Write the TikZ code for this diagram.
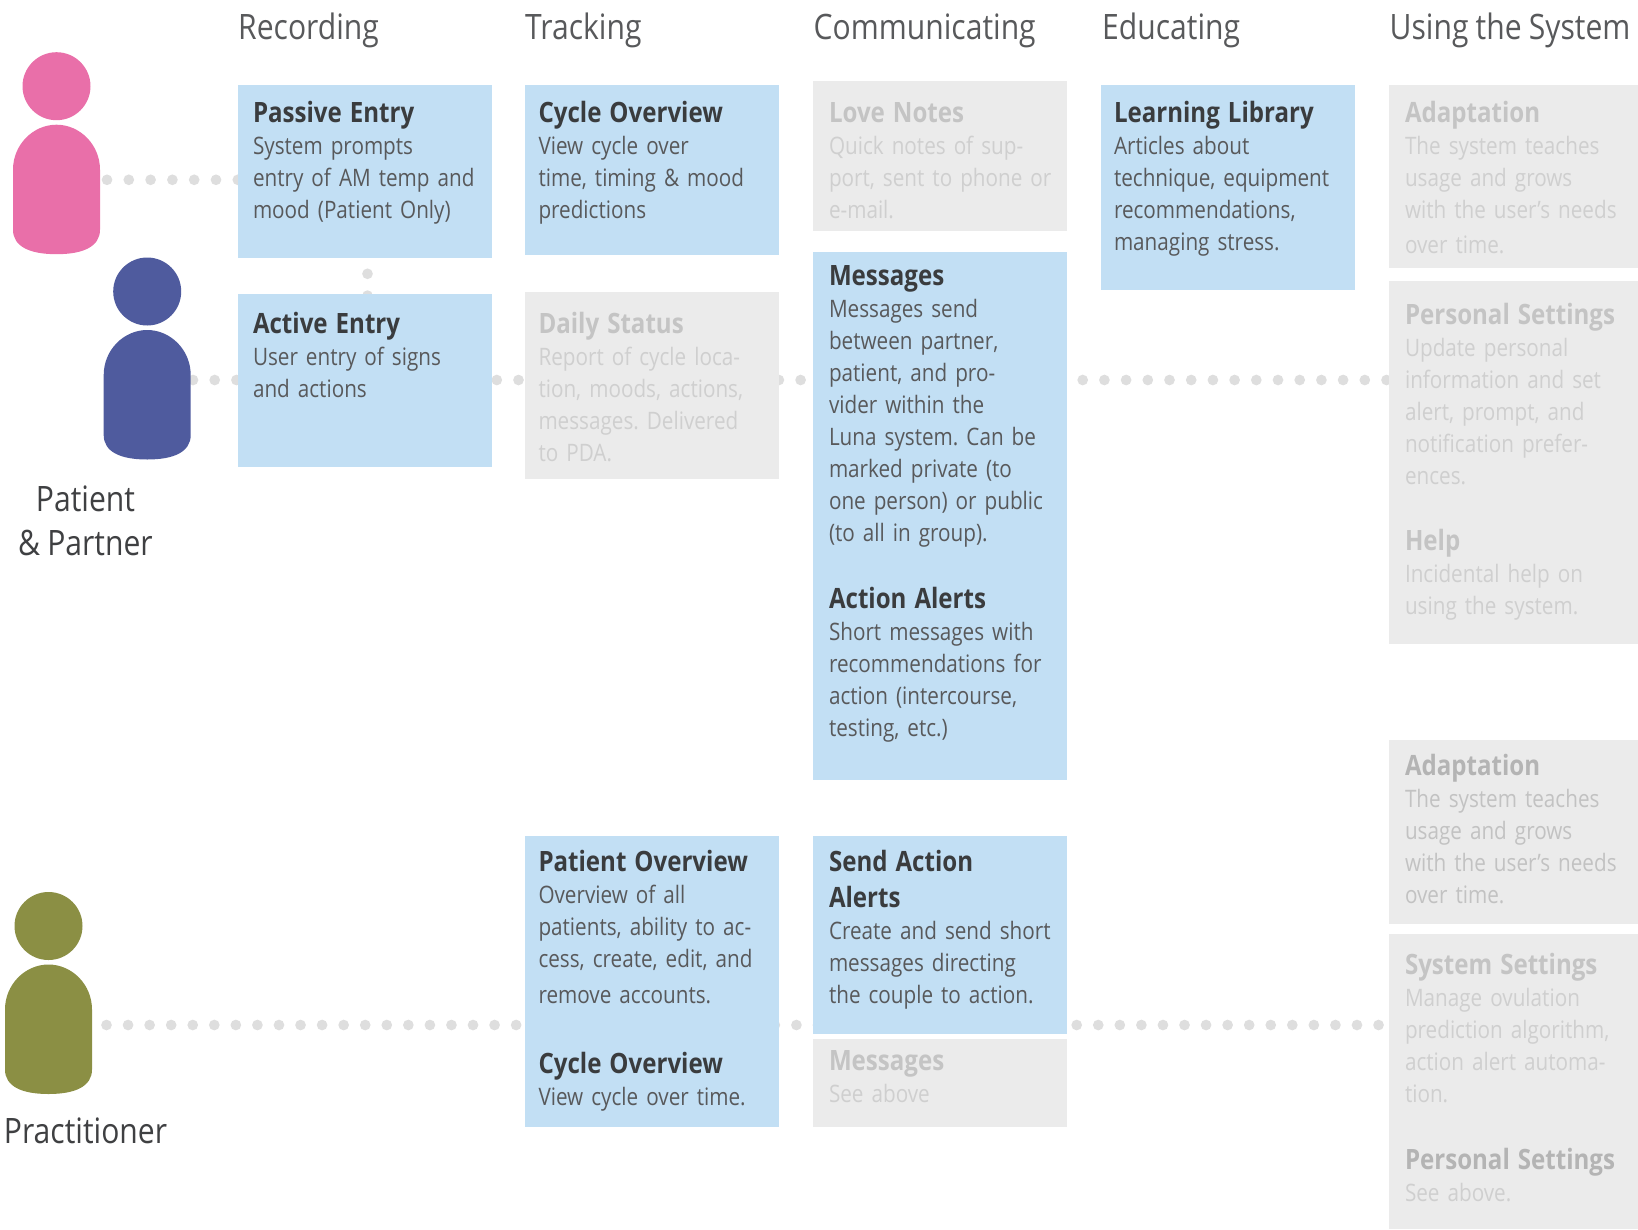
\documentclass[tikz,border=0pt]{standalone}
\usepackage{fontspec}
\setmainfont[FakeStretch=0.86,WordSpace=0.72]{Open Sans}
\newfontfamily\headfam[FakeStretch=0.86,WordSpace=0.92]{Open Sans}
\usetikzlibrary{backgrounds}
\definecolor{cardblue}{HTML}{C2DFF4}
\definecolor{cardgrey}{HTML}{EBEBEB}
\definecolor{dotgrey}{HTML}{DEDEDE}
\definecolor{inkhead}{HTML}{58595B}
\definecolor{inklabel}{HTML}{3F4042}
\definecolor{bluetitle}{HTML}{3A3C3E}
\definecolor{bluebody}{HTML}{58595B}
\definecolor{greytitle}{HTML}{C4C4C4}
\definecolor{greybody}{HTML}{CFCFCF}
\definecolor{midtitle}{HTML}{B4B4B4}
\definecolor{midbody}{HTML}{C2C2C2}
\newcommand\tb[1]{{\fontsize{28}{32}\selectfont\bfseries\color{bluetitle}#1}}
\newcommand\tg[1]{{\fontsize{28}{32}\selectfont\bfseries\color{greytitle}#1}}
\newcommand\tm[1]{{\fontsize{28}{32}\selectfont\bfseries\color{midtitle}#1}}
\definecolor{pinkp}{HTML}{E96FA9}
\definecolor{bluep}{HTML}{4F5B9E}
\definecolor{olivep}{HTML}{8B8F44}
\tikzset{
  bluecard/.style={fill=cardblue},
  greycard/.style={fill=cardgrey},
  cardbox/.style={anchor=north west,inner sep=0pt,outer sep=0pt,draw=none},
  cardtext/.style={anchor=base west,inner sep=0pt,outer sep=0pt,text width=300pt,align=left,font=\fontsize{24.05}{32}\selectfont\frenchspacing},
  blueink/.style={text=bluebody},
  greyink/.style={text=greybody},
  midink/.style={text=midbody},
  dotrow/.style={draw=dotgrey,line width=10.7pt,line cap=round,dash pattern=on 0pt off #1},
  heading/.style={anchor=base west,inner sep=0pt,text=inkhead,font=\headfam\fontsize{35}{40}\selectfont},
  rolelabel/.style={anchor=base,inner sep=0pt,align=center,text=inklabel,font=\headfam\fontsize{35}{44.5}\selectfont},
  personhead/.style={circle,inner sep=0pt,minimum size=68pt,fill=#1},
}
% style, ink, name, x0, y0, x1, y1, text offset, first baseline, text
\newcommand\card[9]{%
  \node[cardbox,#1,minimum width=#6pt-#4pt,minimum height=#7pt-#5pt] (#3) at (#4,#5) {};%
  \cardrest{#2}{#3}{#4}{#8}{#9}%
}
\newcommand\cardrest[5]{\node[cardtext,#1] (#2-text) at (#3+#4,#5) {\cardbody};}
\newcommand\person[4]{% name, colour, body x, body y
  \node[personhead=#2] (#1-head) at (#3+43.5,#4-38.5) {};
  \fill[#2] (#3,#4+45) .. controls (#3,#4+20) and (#3+20,#4) .. (#3+43.5,#4)
    .. controls (#3+67,#4) and (#3+87,#4+20) .. (#3+87,#4+45)
    -- (#3+87,#4+105) .. controls (#3+87,#4+122) and (#3+70,#4+129.5) .. (#3+43.5,#4+129.5)
    .. controls (#3+17,#4+129.5) and (#3,#4+122) .. (#3,#4+105) -- cycle;
  \coordinate (#1-body) at (#3+43.5,#4+65);
}
\begin{document}
\begin{tikzpicture}[x=1pt,y=-1pt]
\useasboundingbox (0,0) rectangle (1638,1229);
% headings
\node[heading] (h1) at (238,39.6) {Recording};
\node[heading] (h2) at (525,39.6) {Tracking};
\node[heading] (h3) at (813.5,39.6) {Communicating};
\node[heading] (h4) at (1102,39.6) {Educating};
\node[heading] (h5) at (1389.5,39.6) {Using the System};
% people
\person{pink}{pinkp}{13}{124.7}
\person{navy}{bluep}{103.7}{330}
\person{olive}{olivep}{5}{964.5}
\node[rolelabel] (role1) at (85.5,555.5) {Patient\\\& Partner};
\node[rolelabel] (role2) at (85.5,1143) {Practitioner};
% cards
\def\cardbody{\tb{Passive Entry}\\[0.4pt]System prompts\\entry of AM temp and\\mood (Patient Only)}
\card{bluecard}{blueink}{passive}{238}{85}{492}{258}{15}{122}
\def\cardbody{\tb{Active Entry}\\[0.2pt]User entry of signs\\and actions}
\card{bluecard}{blueink}{active}{238}{294}{492}{467}{15}{333.3}
\def\cardbody{\tb{Cycle Overview}\\[0.4pt]View cycle over\\time, timing \& mood\\predictions}
\card{bluecard}{blueink}{cycle}{525}{85}{779}{255}{13.5}{122}
\def\cardbody{\tg{Daily Status}\\[0.4pt]Report of cycle loca-\\tion, moods, actions,\\messages. Delivered\\to PDA.}
\card{greycard}{greyink}{daily}{525}{291.5}{779}{478.5}{13.5}{333}
\def\cardbody{\tg{Love Notes}\\[0.4pt]Quick notes of sup-\\port, sent to phone or\\e-mail.}
\card{greycard}{greyink}{love}{813}{81}{1067}{231}{16}{122}
\def\cardbody{\tb{Messages}\\[-0.6pt]Messages send\\between partner,\\patient, and pro-\\vider within the\\Luna system. Can be\\marked private (to\\one person) or public\\(to all in group).\\[35pt]\tb{Action Alerts}\\[0.4pt]Short messages with\\recommendations for\\action (intercourse,\\testing, etc.)}
\card{bluecard}{blueink}{messages}{813}{252}{1067}{780}{16}{285.7}
\def\cardbody{\tb{Learning Library}\\[-0.2pt]Articles about\\technique, equipment\\recommendations,\\managing stress.}
\card{bluecard}{blueink}{library}{1101}{85}{1355}{290}{13}{122.5}
\def\cardbody{\tg{Adaptation}\\[-0.2pt]The system teaches\\usage and grows\\with the user’s needs\\[2.8pt]over time.}
\card{greycard}{greyink}{adapt}{1389}{85}{1638}{268}{16}{122.5}
\def\cardbody{\tg{Personal Settings}\\[0.3pt]Update personal\\information and set\\alert, prompt, and\\notification prefer-\\ences.\\[34.4pt]\tg{Help}\\[0pt]Incidental help on\\using the system.}
\card{greycard}{greyink}{personal}{1389}{281}{1638}{643.6}{16}{324}
\def\cardbody{\tb{Patient Overview}\\[0.2pt]Overview of all\\patients, ability to ac-\\cess, create, edit, and\\[3.5pt]remove accounts.\\[37.9pt]\tb{Cycle Overview}\\[0.6pt]View cycle over time.}
\card{bluecard}{blueink}{patients}{525}{836}{779}{1126.6}{13.5}{871.5}
\def\cardbody{\tb{Send Action}\\[4.5pt]\tb{Alerts}\\Create and send short\\messages directing\\the couple to action.}
\card{bluecard}{blueink}{sendalerts}{813}{836}{1067}{1033.7}{16}{871}
\def\cardbody{\tg{Messages}\\[0pt]See above}
\card{greycard}{greyink}{msgsee}{813}{1039}{1067}{1126.7}{16}{1070}
\def\cardbody{\tm{Adaptation}\\[0.4pt]The system teaches\\usage and grows\\with the user’s needs\\over time.}
\card{greycard}{midink}{adapttwo}{1389}{740}{1638}{923.7}{16}{775.3}
\def\cardbody{\tg{System Settings}\\[0.7pt]Manage ovulation\\prediction algorithm,\\action alert automa-\\tion.\\[35pt]\tm{Personal Settings}\\[-0.7pt]See above.}
\card{greycard}{greyink}{system}{1389}{934}{1638}{1229}{16}{974}
% connectors, behind the cards
\begin{pgfonlayer}{background}
\coordinate (pink-out) at (107,179.8);
\coordinate (navy-out) at (193,380);
\coordinate (olive-out) at (106.5,1025);
\coordinate (passive-out) at (367.5,273.8);
\draw[dotrow=21.8pt] (pink-out) -- (passive |- pink-out);
\draw[dotrow=21.7pt] (navy-out) -- (personal |- navy-out);
\draw[dotrow=21.56pt] (olive-out) -- (system |- olive-out);
\draw[dotrow=21.8pt] (passive-out) -- (active.center -| passive-out);
\end{pgfonlayer}
\end{tikzpicture}
\end{document}
